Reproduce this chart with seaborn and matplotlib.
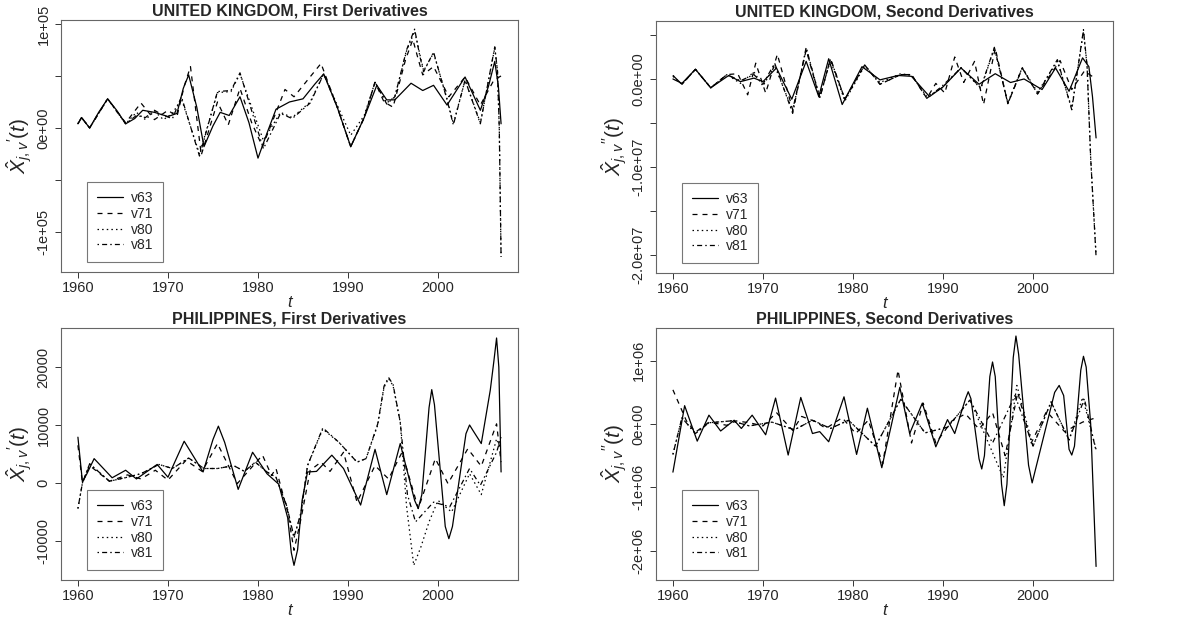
import numpy as np
import pandas as pd
import matplotlib
matplotlib.use("Agg")
import matplotlib.pyplot as plt
from matplotlib.lines import Line2D
import seaborn as sns

# ---------------- data ----------------
series_names = ["v63", "v71", "v80", "v81"]
years_ticks = [1960, 1970, 1980, 1990, 2000]

# UNITED KINGDOM, first derivatives (values in thousands)
uk1_v63_t = [1960, 1960.4, 1961.3, 1962.3, 1963.3, 1964.3, 1965.3, 1966.3, 1967.2, 1968.5, 1970.0, 1971.0,
             1971.7, 1972.3, 1973.2, 1974.0, 1975.0, 1975.8, 1976.8, 1978.0, 1979.0, 1980.0, 1981.0, 1982.0,
             1983.5, 1985.0, 1986.3, 1987.3, 1988.8, 1990.3, 1991.8, 1993.2, 1994.3, 1995.2, 1997.0, 1998.3,
             1999.5, 2001.0, 2003.0, 2004.7, 2005.6, 2006.3, 2006.7, 2007.0]
uk1_v63_y = [4, 10, 0, 15, 28, 17, 4, 9, 17, 15, 11, 14, 38, 51, 20, -18, 2, 15, 12, 30, 5, -29, -5, 18,
             25, 28, 42, 52, 20, -18, 10, 41, 27, 27, 43, 36, 41, 22, 49, 17, 40, 64, 40, 4]
uk1_v71_t = [1960, 1960.4, 1961.3, 1963.3, 1965.3, 1967.0, 1968.5, 1970.0, 1971.0, 1971.8, 1972.5, 1973.7,
             1975.5, 1976.7, 1978.0, 1979.3, 1980.5, 1982.0, 1983.0, 1984.0, 1985.5, 1987.0, 1988.8, 1990.3,
             1991.8, 1993.0, 1994.0, 1995.0, 1996.4, 1997.2, 1997.8, 1998.3, 1999.5, 2001.2, 2003.0, 2004.7,
             2006.2, 2007.0]
uk1_v71_y = [4, 10, 0, 28, 5, 24, 8, 17, 11, 40, 59, -26, 25, 3, 38, 5, -18, 15, 37, 30, 46, 62, 20, -18,
             10, 44, 25, 20, 66, 85, 66, 51, 59, 30, 49, 22, 46, 50]
uk1_v80_t = [1960, 1960.4, 1961.3, 1963.3, 1965.3, 1966.5, 1967.5, 1968.5, 1969.5, 1970.5, 1971.5, 1973.5,
             1975.5, 1977.0, 1978.0, 1980.6, 1982.5, 1983.8, 1985.8, 1987.3, 1988.8, 1990.3, 1991.8, 1993.0,
             1994.3, 1995.2, 1996.5, 1997.4, 1998.0, 1998.4, 1999.5, 2001.0, 2001.7, 2003.0, 2004.7, 2006.3,
             2006.6, 2006.8, 2007.0]
uk1_v80_y = [4, 10, 0, 28, 4, 15, 8, 16, 8, 14, 28, -25, 34, 35, 52, -12, 15, 10, 25, 52, 22, -7, 12, 44,
             24, 30, 74, 93, 70, 55, 72, 28, 4, 46, 5, 77, 55, 0, -124]
uk1_v81_t = [1960, 1960.4, 1961.3, 1963.3, 1965.3, 1966.5, 1967.5, 1968.5, 1969.5, 1970.5, 1971.5, 1973.5,
             1975.5, 1977.0, 1978.0, 1980.6, 1982.5, 1983.8, 1985.8, 1987.3, 1988.8, 1990.3, 1991.8, 1993.0,
             1994.3, 1995.2, 1996.5, 1997.4, 1998.0, 1998.4, 1999.5, 2001.0, 2001.7, 2003.0, 2004.7, 2006.3,
             2006.6, 2006.8, 2007.0]
uk1_v81_y = [4, 10, 0, 28, 4, 12, 10, 17, 12, 9, 30, -27, 35, 36, 53, -20, 14, 9, 24, 52, 20, -18, 10, 44,
             23, 30, 75, 95, 68, 54, 73, 27, 3, 46, 4, 78, 55, 0, -124]

# UNITED KINGDOM, second derivatives (values in millions)
uk2_v63_t = [1960, 1961, 1962.5, 1964.2, 1966.2, 1967.5, 1969, 1970, 1971.5, 1973.2, 1974.8, 1976.2, 1977.3,
             1978.8, 1981, 1983, 1985, 1986.5, 1988.5, 1990, 1992, 1994, 1995.8, 1997.5, 1999, 2001, 2002.5,
             2004, 2005.5, 2006.2, 2006.6, 2007]
uk2_v63_y = [0, -0.5, 1.1, -1.0, 0.4, -0.3, 0.1, -0.3, 1.25, -2.3, 2.0, -2.0, 2.3, -2.9, 1.4, -0.1, 0.4, 0.3,
             -2.0, -0.9, 1.25, -0.6, 0.6, -0.4, 0, -1.2, 1.25, -1.4, 2.4, 1.4, -2.0, -6.7]
uk2_v71_t = [1960, 1961, 1962.5, 1964.2, 1966, 1967.2, 1968.3, 1969.2, 1970.3, 1971.6, 1973.3, 1974.8, 1976.3,
             1977.5, 1979.1, 1981.3, 1983, 1985.3, 1986.5, 1988.2, 1989.2, 1990.2, 1991.3, 1992.3, 1993.5,
             1994.5, 1995.8, 1997.2, 1998.8, 2000.5, 2003, 2004.3, 2005.7, 2007]
uk2_v71_y = [0.4, -0.6, 1.1, -1.0, 0.5, 0.6, -1.8, 1.8, -1.6, 2.8, -3.5, 3.3, -2.2, 2.3, -2.3, 1.6, -0.6, 0.5,
             0.5, -2.2, -0.5, -1.6, 2.5, -0.4, 2.0, -2.9, 3.5, -2.8, 1.25, -1.7, 2.1, -1.2, 0.9, 0.0]
uk2_v80_t = [1960, 1961, 1962.5, 1964.2, 1966, 1967.5, 1969, 1970, 1971.3, 1973.3, 1974.8, 1976.3, 1977.5,
             1979.1, 1981.3, 1983, 1985.3, 1986.5, 1988.2, 1989.8, 1992, 1994.2, 1995.7, 1997.2, 1998.8,
             2000.5, 2002.7, 2004.3, 2005.6, 2006.0, 2006.4, 2007]
uk2_v80_y = [0.3, -0.6, 1.1, -1.0, 0.5, -0.5, 0.8, -0.8, 1.5, -3.6, 3.4, -2.0, 2.1, -2.5, 1.5, -0.4, 0.6, 0.4,
             -2.0, -1.1, 1.3, -1.1, 3.5, -2.7, 1.3, -1.5, 2.0, -3.3, 5.4, 1.5, -9.0, -20.0]
uk2_v81_t = [1960, 1961, 1962.5, 1964.2, 1966, 1967.5, 1969, 1970, 1971.3, 1973.3, 1974.8, 1976.3, 1977.5,
             1979.1, 1981.3, 1983, 1985.3, 1986.5, 1988.2, 1989.8, 1992, 1994.2, 1995.7, 1997.2, 1998.8,
             2000.5, 2002.7, 2004.3, 2005.6, 2006.0, 2006.4, 2007]
uk2_v81_y = [0.4, -0.6, 1.1, -1.0, 0.5, -0.2, 0.5, -0.6, 1.8, -3.9, 3.6, -2.2, 2.3, -2.3, 1.6, -0.6, 0.5, 0.5,
             -2.2, -0.9, 1.25, -1.0, 3.6, -2.8, 1.25, -1.7, 2.2, -3.5, 5.6, 1.5, -9.0, -20.2]

# PHILIPPINES, first derivatives (values in thousands)
ph1_v63_t = [1960, 1960.5, 1961.0, 1961.8, 1963.8, 1965.3, 1966.5, 1968.8, 1970.0, 1971.8, 1973.9, 1975.0,
             1975.6, 1976.3, 1977.8, 1979.4, 1981.0, 1982.3, 1983.3, 1983.7, 1984.0, 1984.4, 1984.9, 1985.5,
             1986.5, 1988.2, 1989.5, 1991.4, 1993.0, 1994.3, 1995.8, 1997.4, 1997.8, 1998.2, 1999.0, 1999.3,
             1999.6, 2000.8, 2001.2, 2001.6, 2003.1, 2003.5, 2003.9, 2004.8, 2005.8, 2006.2, 2006.5, 2006.75,
             2007.0]
ph1_v63_y = [7.9, 0.2, 1.6, 4.2, 0.9, 2.2, 0.7, 3.2, 1.0, 7.2, 1.9, 7.5, 9.8, 7.0, -1.1, 5.3, 1.6, -0.2,
             -6.0, -12.0, -14.2, -11.5, -3.0, 1.9, 2.0, 4.8, 2.5, -3.8, 5.8, -2.0, 6.8, -3.0, -4.4, -2.0, 13.0,
             16.1, 13.5, -7.5, -9.6, -7.5, 8.5, 10.0, 9.0, 6.8, 16.0, 21.0, 25.0, 20.0, 1.9]
ph1_v71_t = [1960, 1960.5, 1961.3, 1963.5, 1965.5, 1967.0, 1968.6, 1970.0, 1972.0, 1973.8, 1975.5, 1977.7,
             1980.5, 1981.5, 1982.0, 1983.3, 1984.0, 1984.8, 1985.8, 1987.0, 1988.0, 1989.5, 1991.0, 1993.0,
             1994.5, 1996.0, 1997.8, 1999.7, 2001.1, 2003.3, 2004.8, 2006.5, 2007.0]
ph1_v71_y = [6.5, 0.0, 3.0, 0.3, 1.4, 0.7, 2.2, 0.5, 3.9, 2.0, 6.8, -0.1, 4.8, 1.3, 2.5, -5.0, -11.6, -6.0,
             2.2, 3.6, 2.0, 5.3, -3.3, 3.0, 0.7, 5.3, -4.4, 4.2, -0.1, 5.9, 2.9, 10.2, 3.6]
ph1_v80_t = [1960, 1960.5, 1961.3, 1963.5, 1965.5, 1967.0, 1969.0, 1970.5, 1972.3, 1974.0, 1975.5, 1977.3,
             1978.5, 1979.7, 1981.0, 1982.0, 1983.2, 1984.0, 1984.8, 1985.5, 1987.2, 1989.0, 1991.0, 1992.0,
             1993.3, 1994.0, 1994.5, 1995.0, 1995.8, 1996.5, 1997.3, 1998.1, 1999.0, 2000.0, 2001.5, 2003.5,
             2004.8, 2006.5, 2007.0]
ph1_v80_y = [-4.4, 0.0, 3.3, 0.3, 1.0, 1.6, 3.2, 2.5, 4.3, 2.5, 2.5, 3.0, 2.0, 3.6, 1.9, 1.0, -4.0, -9.5,
             -5.0, 3.0, 9.3, 7.0, 3.6, 4.2, 10.0, 16.5, 18.0, 16.8, 10.5, -4.0, -14.2, -11.0, -6.7, -3.0,
             -5.0, 1.6, -2.0, 7.6, 5.9]
ph1_v81_t = [1960, 1960.5, 1961.3, 1963.5, 1965.5, 1967.0, 1969.0, 1970.5, 1972.3, 1974.0, 1975.5, 1977.3,
             1978.5, 1979.7, 1981.0, 1982.0, 1983.2, 1984.0, 1984.8, 1985.5, 1987.2, 1989.0, 1991.0, 1992.0,
             1993.3, 1994.0, 1994.5, 1995.0, 1995.8, 1996.6, 1997.5, 1999.5, 2001.3, 2003.5, 2004.7, 2006.5,
             2007.0]
ph1_v81_y = [-4.4, 0.0, 3.3, 0.3, 1.0, 1.6, 3.2, 2.5, 4.3, 2.5, 2.5, 3.0, 2.0, 3.6, 1.9, 1.0, -4.0, -9.3,
             -5.0, 3.0, 9.5, 7.0, 3.6, 4.2, 10.2, 16.7, 18.2, 17.0, 10.5, -2.0, -6.7, -3.3, -4.1, 2.5, -0.4,
             5.3, 7.9]

# PHILIPPINES, second derivatives (values in hundred-thousands)
ph2_v63_t = [1960, 1961.3, 1962.7, 1964.0, 1965.3, 1966.8, 1967.6, 1968.8, 1970.3, 1971.4, 1972.8, 1974.2,
             1975.5, 1976.3, 1977.3, 1979.0, 1980.4, 1981.6, 1983.2, 1985.2, 1986.3, 1987.7, 1989.2, 1990.5,
             1991.3, 1992.5, 1992.8, 1993.1, 1994.0, 1994.3, 1994.6, 1995.2, 1995.5, 1995.8, 1996.5, 1996.8,
             1997.1, 1997.8, 1998.1, 1998.4, 1999.5, 1999.9, 2000.3, 2002.4, 2002.9, 2003.4, 2004.0, 2004.3,
             2004.6, 2005.3, 2005.6, 2005.9, 2006.4, 2007.0]
ph2_v63_y = [-7.6, 2.9, -2.7, 1.4, -1.1, 0.6, -0.7, 1.4, -1.7, 4.1, -4.9, 4.2, -1.5, -1.2, -2.8, 4.3, -4.8,
             2.5, -6.9, 5.8, -1.5, 3.3, -3.6, 0.7, -1.5, 4.0, 5.1, 4.0, -5.5, -7.1, -5.0, 7.5, 9.8, 7.5, -9.5,
             -12.9, -9.5, 10.5, 13.9, 11.0, -6.5, -9.3, -7.0, 5.0, 6.1, 4.5, -4.0, -4.9, -3.5, 8.5, 10.7, 9.0,
             0.0, -22.5]
ph2_v71_t = [1960, 1961.5, 1962.5, 1964.0, 1966.0, 1967.0, 1968.5, 1970.0, 1971.5, 1973.3, 1974.3, 1975.8,
             1977.0, 1978.8, 1980.3, 1981.7, 1983.3, 1985.0, 1986.5, 1987.8, 1989.2, 1991.0, 1992.5, 1994.0,
             1995.5, 1996.9, 1998.3, 1999.8, 2001.5, 2003.5, 2005.5, 2007.0]
ph2_v71_y = [5.4, 0.5, -1.3, 0.3, -0.2, 0.5, 0.2, -0.3, 1.8, -1.0, 1.2, 0.4, -0.7, 1.0, -1.5, 0.6, -6.3, 8.5,
             -3.0, 3.3, -3.0, 0.5, 1.6, -0.8, 1.8, -5.0, 5.0, -3.0, 2.0, -1.2, 0.3, 1.0]
ph2_v80_t = [1960, 1961.0, 1962.5, 1964.0, 1966.5, 1968.5, 1971.0, 1973.5, 1975.5, 1977.5, 1979.5, 1982.5,
             1985.3, 1988.0, 1990.5, 1993.0, 1996.7, 1998.2, 2000.0, 2002.0, 2004.0, 2005.5, 2007.0]
ph2_v80_y = [-4.8, 1.0, -1.5, 0.2, 0.5, -0.3, 0.3, -0.9, 0.6, -0.7, 0.6, -3.5, 3.9, -1.4, -0.5, 3.8, -8.5,
             6.1, -3.5, 3.5, -2.5, 4.2, -4.0]
ph2_v81_t = [1960, 1961.0, 1962.5, 1964.0, 1966.5, 1968.5, 1971.0, 1973.5, 1975.5, 1977.5, 1979.5, 1982.5,
             1985.3, 1988.0, 1990.5, 1993.0, 1995.5, 1998.0, 2000.0, 2002.0, 2004.0, 2005.7, 2007.0]
ph2_v81_y = [-4.8, 1.0, -1.5, 0.2, 0.5, -0.3, 0.3, -0.9, 0.6, -0.7, 0.6, -3.5, 3.9, -1.4, -0.5, 3.8, -3.0,
             4.5, -3.5, 3.5, -2.5, 4.0, -4.3]

titles = ["UNITED KINGDOM, First Derivatives", "UNITED KINGDOM, Second Derivatives",
          "PHILIPPINES, First Derivatives", "PHILIPPINES, Second Derivatives"]
units = [1e3, 1e6, 1e3, 1e5]

uk1_ticks = [-1e5, -5e4, 0, 5e4, 1e5]
uk1_ticklabels = ["-1e+05", "", "0e+00", "", "1e+05"]
uk2_ticks = [-2e7, -1.5e7, -1e7, -5e6, 0, 5e6]
uk2_ticklabels = ["-2.0e+07", "", "-1.0e+07", "", "0.0e+00", ""]
ph1_ticks = [-10000, 0, 10000, 20000]
ph1_ticklabels = ["-10000", "0", "10000", "20000"]
ph2_ticks = [-2e6, -1e6, 0, 1e6]
ph2_ticklabels = ["-2e+06", "-1e+06", "0e+00", "1e+06"]

# ---------------- layout / style ----------------
sns.set_style("white")
plt.rcParams["font.family"] = ["Liberation Sans", "DejaVu Sans"]
plt.rcParams["mathtext.fontset"] = "custom"
plt.rcParams["mathtext.rm"] = "Liberation Sans"
plt.rcParams["mathtext.it"] = "Liberation Sans:italic"
plt.rcParams["mathtext.bf"] = "Liberation Sans:bold"

W, H = 1177, 618
fig = plt.figure(figsize=(W / 100, H / 100), dpi=100)
fig.patch.set_facecolor("white")

# pixel boxes (left, top, right, bottom)
boxes = [(61, 20, 518, 272), (656, 21, 1113, 273), (61, 328, 518, 580), (656, 328, 1113, 580)]
ylims = [(-1.385e5, 1.038e5), (-2.205e7, 0.659e7), (-16724, 26724), (-2.464e6, 1.517e6)]
yticks = [(uk1_ticks, uk1_ticklabels), (uk2_ticks, uk2_ticklabels),
          (ph1_ticks, ph1_ticklabels), (ph2_ticks, ph2_ticklabels)]
ylabels = [r"$\hat{X}_{j,v}{}'(t)$", r"$\hat{X}_{j,v}{}''(t)$",
           r"$\hat{X}_{j,v}{}'(t)$", r"$\hat{X}_{j,v}{}''(t)$"]

panel_data = [
    {"v63": (uk1_v63_t, uk1_v63_y), "v71": (uk1_v71_t, uk1_v71_y),
     "v80": (uk1_v80_t, uk1_v80_y), "v81": (uk1_v81_t, uk1_v81_y)},
    {"v63": (uk2_v63_t, uk2_v63_y), "v71": (uk2_v71_t, uk2_v71_y),
     "v80": (uk2_v80_t, uk2_v80_y), "v81": (uk2_v81_t, uk2_v81_y)},
    {"v63": (ph1_v63_t, ph1_v63_y), "v71": (ph1_v71_t, ph1_v71_y),
     "v80": (ph1_v80_t, ph1_v80_y), "v81": (ph1_v81_t, ph1_v81_y)},
    {"v63": (ph2_v63_t, ph2_v63_y), "v71": (ph2_v71_t, ph2_v71_y),
     "v80": (ph2_v80_t, ph2_v80_y), "v81": (ph2_v81_t, ph2_v81_y)},
]

dash_map = {"v63": "", "v71": (4, 4), "v80": (1.2, 2.5), "v81": (1.2, 2.5, 4, 2.5)}
lw = 0.9

for i in range(4):
    l, t, r, b = boxes[i]
    ax = fig.add_axes([l / W, 1 - b / H, (r - l) / W, (b - t) / H])
    frames = []
    for name in series_names:
        tt, yy = panel_data[i][name]
        frames.append(pd.DataFrame({"t": tt, "value": np.array(yy) * units[i], "series": name}))
    df = pd.concat(frames, ignore_index=True)
    sns.lineplot(data=df, x="t", y="value", style="series", dashes=dash_map, color="black",
                 linewidth=lw, estimator=None, sort=False, legend=False, ax=ax)
    ax.set_xlim(1958.12, 2008.88)
    ax.set_ylim(*ylims[i])
    ax.set_xticks(years_ticks)
    ax.set_xticklabels([str(y) for y in years_ticks])
    ax.set_yticks(yticks[i][0])
    ax.set_yticklabels(yticks[i][1], rotation=90, va="center")
    ax.tick_params(axis="both", which="major", direction="out", length=4.5, width=0.7,
                   color="#333333", labelsize=10.5, pad=3, left=True, bottom=True)
    ax.tick_params(axis="x", pad=2)
    for sp in ax.spines.values():
        sp.set_visible(True)
        sp.set_color("#666666")
        sp.set_linewidth(0.8)
    ax.set_xlabel("t", fontsize=12, fontstyle="italic", labelpad=0)
    ax.set_ylabel(ylabels[i], fontsize=15, labelpad=1)
    ax.set_title(titles[i], fontsize=11.5, fontweight="bold", pad=3)
    ax.grid(False)

    handles = [Line2D([0], [0], color="black", lw=lw,
                      linestyle=(0, dash_map[n]) if dash_map[n] else "-") for n in series_names]
    leg = ax.legend(handles, series_names, loc="lower left",
                    bbox_to_anchor=(26 / (r - l), 10 / (b - t)), borderaxespad=0,
                    fontsize=10, handlelength=1.9, handletextpad=0.55, labelspacing=0.12,
                    borderpad=0.7, frameon=True, fancybox=False, framealpha=1)
    leg.get_frame().set_edgecolor("#777777")
    leg.get_frame().set_linewidth(0.8)

fig.savefig("out.png", dpi=100, facecolor="white")
